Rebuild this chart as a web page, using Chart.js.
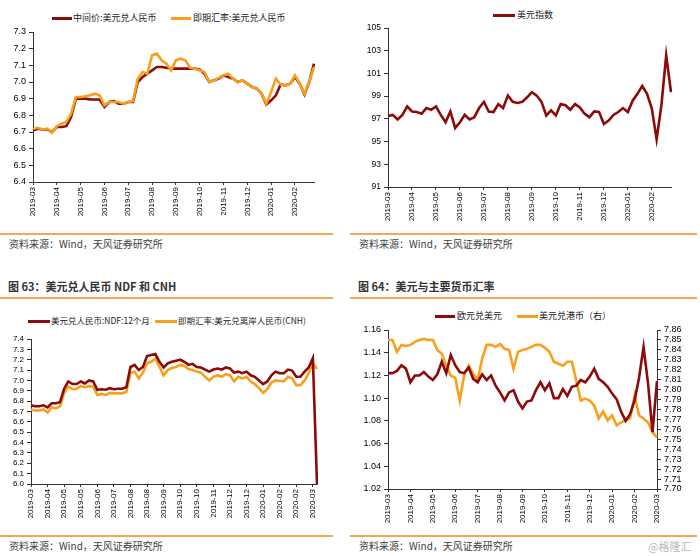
<!DOCTYPE html>
<html>
<head>
<meta charset="utf-8">
<script src="https://cdn.jsdelivr.net/npm/chart.js@4.4.1/dist/chart.umd.min.js"></script>
<style>
body { margin:0; background:#fff; }
.page { position:relative; width:700px; height:556px; overflow:hidden; background:#fff; }
.box { position:absolute; }
.txt { position:absolute; white-space:nowrap; line-height:1; font-family:"Noto Sans CJK SC",sans-serif; }
.src { font-size:10px; color:#404040; }
.ttl { font-size:11px; font-weight:bold; color:#333; }
.rule { position:absolute; height:2px; background:#f5a64e; }
.leg { font-size:9px; color:#222; }
.sw { position:absolute; height:3px; }
</style>
</head>
<body>
<div class="page">
  <!-- top left -->
  <div class="sw" style="left:52px;top:17px;width:20px;background:#8b0a0a"></div>
  <div class="txt leg" style="left:73px;top:13px">中间价:美元兑人民币</div>
  <div class="sw" style="left:171px;top:17px;width:20px;background:#f8a01c"></div>
  <div class="txt leg" style="left:193px;top:13px">即期汇率:美元兑人民币</div>
  <div class="box" style="left:0;top:0"><canvas id="c1" width="330" height="230"></canvas></div>
  <div class="rule" style="left:0;top:233px;width:333px"></div>
  <div class="txt src" style="left:9px;top:239px">资料来源：Wind，天风证券研究所</div>

  <!-- top right -->
  <div class="sw" style="left:493px;top:14px;width:22px;background:#8b0a0a"></div>
  <div class="txt leg" style="left:517px;top:10px">美元指数</div>
  <div class="box" style="left:350px;top:0"><canvas id="c2" width="340" height="230"></canvas></div>
  <div class="rule" style="left:350px;top:233px;width:347px"></div>
  <div class="txt src" style="left:359px;top:239px">资料来源：Wind，天风证券研究所</div>

  <!-- bottom left -->
  <div class="txt ttl" style="left:8px;top:281px">图 63：美元兑人民币 NDF 和 CNH</div>
  <div class="rule" style="left:0;top:297px;width:333px"></div>
  <div class="sw" style="left:28px;top:320px;width:22px;background:#8b0a0a"></div>
  <div class="txt leg" style="left:51px;top:316px;font-size:8.5px">美元兑人民币:NDF:12个月</div>
  <div class="sw" style="left:155px;top:320px;width:22px;background:#f8a01c"></div>
  <div class="txt leg" style="left:178px;top:316px;font-size:8.5px">即期汇率:美元兑离岸人民币(CNH)</div>
  <div class="box" style="left:0;top:300px"><canvas id="c3" width="340" height="230"></canvas></div>
  <div class="rule" style="left:0;top:535px;width:333px"></div>
  <div class="txt src" style="left:9px;top:541px">资料来源：Wind，天风证券研究所</div>

  <!-- bottom right -->
  <div class="txt ttl" style="left:358px;top:281px">图 64：美元与主要货币汇率</div>
  <div class="rule" style="left:350px;top:297px;width:347px"></div>
  <div class="sw" style="left:435px;top:315px;width:20px;background:#8b0a0a"></div>
  <div class="txt leg" style="left:457px;top:311px">欧元兑美元</div>
  <div class="sw" style="left:517px;top:315px;width:21px;background:#f8a01c"></div>
  <div class="txt leg" style="left:539px;top:311px">美元兑港币（右）</div>
  <div class="box" style="left:350px;top:300px"><canvas id="c4" width="350" height="230"></canvas></div>
  <div class="rule" style="left:350px;top:535px;width:347px"></div>
  <div class="txt src" style="left:359px;top:541px">资料来源：Wind，天风证券研究所</div>
  <div class="txt" style="left:648px;top:541px;font-size:11px;color:#b8b8b8">@格隆汇</div>
</div>

<script>
// ! data ************************************************
const p1Ticks = ['2019-03', '2019-04', '2019-05', '2019-06', '2019-07', '2019-08', '2019-09', '2019-10', '2019-11', '2019-12', '2020-01', '2020-02'];
// 中间价 and 即期汇率, 5 points between two tick labels
const p1Mid = [6.71, 6.72, 6.715, 6.715, 6.70, 6.73, 6.73, 6.735, 6.79, 6.90,
    6.90, 6.90, 6.895, 6.895, 6.895, 6.85, 6.88, 6.885, 6.87, 6.87,
    6.88, 6.88, 7.00, 7.03, 7.05, 7.07, 7.09, 7.09, 7.085, 7.08,
    7.08, 7.08, 7.08, 7.08, 7.08, 7.075, 7.05, 7.00, 7.01, 7.02,
    7.04, 7.03, 7.02, 7.00, 7.01, 6.99, 6.97, 6.96, 6.93, 6.865,
    6.89, 6.92, 6.985, 6.98, 6.99, 7.03, 6.99, 6.925, 7.00, 7.11];
const p1Spot = [6.72, 6.725, 6.715, 6.72, 6.695, 6.735, 6.75, 6.76, 6.81, 6.91,
    6.91, 6.915, 6.92, 6.93, 6.92, 6.86, 6.88, 6.88, 6.88, 6.87,
    6.88, 6.885, 7.02, 7.06, 7.05, 7.16, 7.17, 7.13, 7.11, 7.07,
    7.13, 7.14, 7.13, 7.085, 7.08, 7.07, 7.06, 7.00, 7.01, 7.025,
    7.04, 7.05, 7.02, 7.00, 7.01, 6.99, 6.97, 6.96, 6.93, 6.87,
    6.94, 7.02, 6.985, 6.98, 6.99, 7.04, 6.99, 6.93, 7.00, 7.09];

const p2Ticks = ['2019-03', '2019-04', '2019-05', '2019-06', '2019-07', '2019-08', '2019-09', '2019-10', '2019-11', '2019-12', '2020-01', '2020-02'];
const p2Dxy = [97.25, 97.35, 96.95, 97.35, 98.1, 97.65, 97.6, 97.45, 97.95, 97.8,
    98.1, 97.35, 96.7, 97.65, 96.2, 96.7, 97.35, 96.95, 97.15, 97.95,
    98.5, 97.65, 97.6, 98.3, 97.95, 99.05, 98.5, 98.4, 98.5, 98.9,
    99.35, 99.05, 98.5, 97.3, 97.75, 97.3, 98.3, 98.2, 97.8, 98.3,
    98.0, 97.45, 97.15, 97.65, 97.6, 96.55, 96.85, 97.35, 97.6, 97.95,
    97.6, 98.6, 99.2, 99.9, 99.2, 97.9, 95.2, 98.2, 102.6, 99.35];

const p3Ticks = ['2019-03', '2019-04', '2019-05', '2019-05', '2019-06', '2019-07', '2019-08', '2019-08', '2019-09', '2019-10', '2019-10', '2019-11', '2019-12', '2019-12', '2020-01', '2020-02', '2020-02', '2020-03'];
// NDF 12个月 and CNH, 4 points between two tick labels
const p3Ndf = [6.76, 6.75, 6.75, 6.76, 6.74, 6.78, 6.78, 6.79, 6.92, 6.99,
    6.965, 6.965, 6.99, 6.97, 7.00, 6.99, 6.91, 6.915, 6.91, 6.925,
    6.915, 6.92, 6.92, 6.935, 7.13, 7.15, 7.10, 7.13, 7.235, 7.245,
    7.255, 7.18, 7.125, 7.165, 7.18, 7.19, 7.20, 7.18, 7.15, 7.16,
    7.13, 7.125, 7.105, 7.085, 7.105, 7.115, 7.105, 7.125, 7.115, 7.075,
    7.085, 7.07, 7.085, 7.05, 7.035, 7.00, 6.965, 6.99, 7.05, 7.085,
    7.07, 7.07, 7.105, 7.095, 7.035, 7.035, 7.085, 7.125, 7.215, 6.0];
const p3Cnh = [6.72, 6.71, 6.71, 6.72, 6.69, 6.74, 6.73, 6.75, 6.88, 6.94,
    6.915, 6.92, 6.945, 6.935, 6.945, 6.94, 6.86, 6.87, 6.86, 6.88,
    6.875, 6.875, 6.875, 6.89, 7.07, 7.085, 7.02, 7.075, 7.165, 7.18,
    7.21, 7.13, 7.05, 7.10, 7.12, 7.13, 7.15, 7.14, 7.11, 7.10,
    7.085, 7.075, 7.035, 7.00, 7.035, 7.05, 7.035, 7.06, 7.05, 6.99,
    7.035, 7.02, 7.035, 6.99, 6.965, 6.925, 6.88, 6.915, 6.98, 7.00,
    6.995, 6.99, 7.035, 7.02, 6.955, 6.955, 7.00, 7.07, 7.165, 7.11];

const p4Ticks = ['2019-03', '2019-04', '2019-05', '2019-06', '2019-07', '2019-08', '2019-09', '2019-10', '2019-11', '2019-12', '2020-01', '2020-02', '2020-03'];
const p4Eur = [1.122, 1.122, 1.124, 1.129, 1.126, 1.114, 1.12, 1.12, 1.123, 1.119,
    1.116, 1.121, 1.132, 1.122, 1.138, 1.129, 1.123, 1.122, 1.127, 1.117,
    1.114, 1.121, 1.116, 1.12, 1.111, 1.105, 1.098, 1.105, 1.107, 1.097,
    1.091, 1.097, 1.098, 1.107, 1.114, 1.107, 1.113, 1.10, 1.10, 1.108,
    1.102, 1.110, 1.111, 1.116, 1.114, 1.119, 1.126, 1.117, 1.114, 1.110,
    1.104, 1.099, 1.088, 1.080, 1.086, 1.098, 1.118, 1.145, 1.113, 1.070,
    1.115];
const p4Hkd = [7.850, 7.850, 7.838, 7.845, 7.844, 7.845, 7.848, 7.850, 7.851, 7.850,
    7.850, 7.840, 7.836, 7.824, 7.814, 7.812, 7.789, 7.815, 7.824, 7.816,
    7.810, 7.831, 7.845, 7.845, 7.843, 7.846, 7.841, 7.840, 7.821, 7.838,
    7.840, 7.841, 7.843, 7.845, 7.845, 7.842, 7.838, 7.828, 7.826, 7.824,
    7.828, 7.828, 7.809, 7.789, 7.791, 7.789, 7.784, 7.771, 7.778, 7.769,
    7.774, 7.764, 7.767, 7.769, 7.771, 7.794, 7.774, 7.771, 7.767, 7.757,
    7.752];

const RED = '#8b0a0a';
const ORANGE = '#f8a01c';
const AXIS = '#333';

Chart.defaults.font.family = 'Liberation Sans';
Chart.defaults.animation = false;
Chart.defaults.plugins.legend.display = false;
Chart.defaults.plugins.tooltip.enabled = false;

// ! axis helpers ****************************************
function xAxis(ticks, per, height, size) {
    return {
        type: 'category',
        grid: {
            drawOnChartArea: false, tickLength: 3,
            tickColor: c => (c.index % per === 0 ? AXIS : 'rgba(0,0,0,0)')
        },
        border: { color: AXIS },
        ticks: {
            autoSkip: false, maxRotation: 90, minRotation: 90, padding: 2,
            color: '#000', font: { size: size },
            callback: (v, i) => (i % per === 0 ? ticks[i / per] : '')
        },
        afterFit: s => { s.height = height; }
    };
}

function yAxis(min, max, step, dec, width, size, pos) {
    return {
        type: 'linear', position: pos || 'left', min: min, max: max,
        grid: { drawOnChartArea: false, tickLength: 4, tickColor: AXIS },
        border: { color: AXIS },
        ticks: {
            stepSize: step, autoSkip: false, padding: 3, color: '#000', font: { size: size },
            callback: v => v.toFixed(dec)
        },
        afterFit: s => { s.width = width; }
    };
}

function line(data, color, extra) {
    return Object.assign({
        data: data, borderColor: color, borderWidth: 2.6,
        pointRadius: 0, tension: 0, fill: false
    }, extra || {});
}

function idx(n) {
    return Array.from({ length: n }, (_, i) => i);
}

// ! chart 1 ************** 中间价 vs 即期 **********************
new Chart(document.getElementById('c1'), {
    type: 'line',
    data: {
        labels: idx(p1Mid.length),
        datasets: [
            line(p1Mid, RED, { order: 1 }),
            line(p1Spot, ORANGE, { order: 0 })
        ]
    },
    options: {
        responsive: false,
        layout: { padding: { top: 32, right: 16, left: 0, bottom: 0 } },
        scales: {
            x: xAxis(p1Ticks, 5, 48, 8),
            y: yAxis(6.4, 7.3, 0.1, 1, 33, 9)
        }
    }
});

// ! chart 2 ************** 美元指数 **********************
new Chart(document.getElementById('c2'), {
    type: 'line',
    data: {
        labels: idx(p2Dxy.length),
        datasets: [line(p2Dxy, RED)]
    },
    options: {
        responsive: false,
        layout: { padding: { top: 28, right: 19, left: 0, bottom: 0 } },
        scales: {
            x: xAxis(p2Ticks, 5, 43, 8),
            y: yAxis(91, 105, 2, 0, 38, 8.5)
        }
    }
});

// ! chart 3 ************** NDF 和 CNH **********************
new Chart(document.getElementById('c3'), {
    type: 'line',
    data: {
        labels: idx(p3Ndf.length),
        datasets: [
            line(p3Ndf, RED, { order: 0 }),
            line(p3Cnh, ORANGE, { order: 1 })
        ]
    },
    options: {
        responsive: false,
        layout: { padding: { top: 39, right: 23, left: 0, bottom: 0 } },
        scales: {
            x: xAxis(p3Ticks, 4, 46, 8),
            y: yAxis(6.0, 7.4, 0.1, 1, 31, 8)
        }
    }
});

// ! chart 4 ************** 欧元 / 港币 **********************
new Chart(document.getElementById('c4'), {
    type: 'line',
    data: {
        labels: idx(p4Eur.length),
        datasets: [
            line(p4Eur, RED, { yAxisID: 'y', order: 0 }),
            line(p4Hkd, ORANGE, { yAxisID: 'y1', order: 1 })
        ]
    },
    options: {
        responsive: false,
        layout: { padding: { top: 30, right: 3, left: 0, bottom: 0 } },
        scales: {
            x: xAxis(p4Ticks, 5, 41, 8),
            y: yAxis(1.02, 1.16, 0.02, 2, 38, 9),
            y1: yAxis(7.70, 7.86, 0.01, 2, 40, 9, 'right')
        }
    }
});
</script>
</body>
</html>
